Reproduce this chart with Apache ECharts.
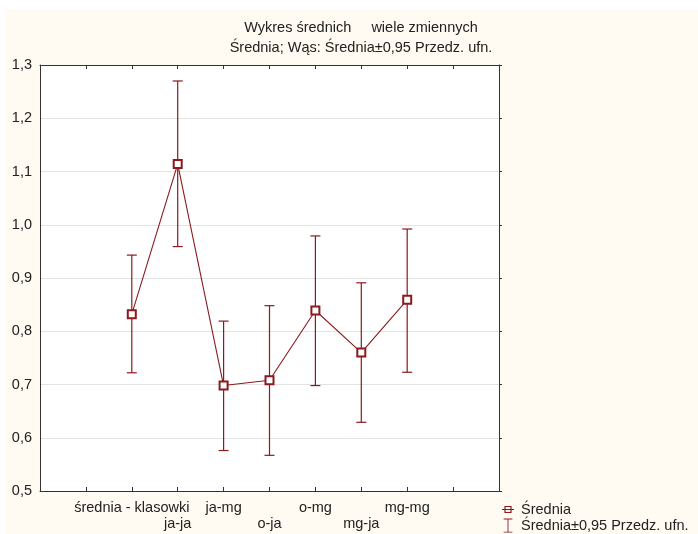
<!DOCTYPE html>
<html>
<head>
<meta charset="utf-8">
<script src="https://cdn.jsdelivr.net/npm/echarts@6/dist/echarts.min.js"></script>
<style>
html,body{margin:0;padding:0;background:#ffffff;}
#wrap{position:absolute;left:5px;top:9px;width:693px;height:525px;background:#fffaf2;}
#chart{position:absolute;left:0;top:0;width:698px;height:534px;}
</style>
</head>
<body>
<div id="wrap"></div>
<div id="chart"></div>
<script>
const categories = ['średnia - klasowki', 'ja-ja', 'ja-mg', 'o-ja', 'o-mg', 'mg-ja', 'mg-mg'];
const means = [0.832, 1.114, 0.698, 0.708, 0.839, 0.760, 0.859];
const lower = [0.722, 0.959, 0.576, 0.567, 0.698, 0.629, 0.723];
const upper = [0.943, 1.270, 0.819, 0.848, 0.979, 0.891, 0.992];
const yTicks = [0.5, 0.6, 0.7, 0.8, 0.9, 1.0, 1.1, 1.2, 1.3];
const titleText = 'Wykres średnich     wiele zmiennych\nŚrednia; Wąs: Średnia±0,95 Przedz. ufn.';
const seriesNames = ['Średnia', 'Średnia±0,95 Przedz. ufn.'];

const color = '#8b1a1f';
const font = 'Liberation Sans, Arial, sans-serif';
const fs = 14.5;
const chart = echarts.init(document.getElementById('chart'), null, {renderer: 'canvas'});

const meanData = means.map((v, i) => [i, v]);
const errData = means.map((v, i) => [i, lower[i], upper[i]]);

chart.setOption({
  backgroundColor: 'transparent',
  animation: false,
  textStyle: {fontFamily: font},
  title: {
    text: titleText,
    left: 356,
    top: 13,
    textAlign: 'center',
    textStyle: {fontSize: fs, fontWeight: 'normal', color: '#222', lineHeight: 20, fontFamily: font}
  },
  grid: {left: 40, right: 199, top: 65, bottom: 43, show: true, backgroundColor: '#ffffff', borderColor: 'transparent'},
  legend: {
    orient: 'vertical',
    left: 502,
    top: 502,
    height: 34,
    padding: 0,
    itemGap: 1,
    itemWidth: 12,
    itemHeight: 14,
    textStyle: {fontSize: fs, color: '#222', fontFamily: font, padding: [0, 0, 0, 2]},
    data: [
      {name: seriesNames[0], icon: 'path://M0,4.5 L2,4.5 L2,2 L8,2 L8,4.5 L10,4.5 L10,5.5 L8,5.5 L8,8 L2,8 L2,5.5 L0,5.5 Z M3,5.5 L3,7 L7,7 L7,5.5 Z M3,4.5 L7,4.5 L7,3 L3,3 Z'},
      {name: seriesNames[1], icon: 'path://M0,0 L10,0 L10,1 L5.5,1 L5.5,15 L10,15 L10,16 L0,16 L0,15 L4.5,15 L4.5,1 L0,1 Z'}
    ]
  },
  xAxis: [{
    type: 'value',
    min: -2,
    max: 8,
    interval: 1,
    position: 'bottom',
    axisLine: {show: true, onZero: false, lineStyle: {color: '#333', width: 1}},
    axisTick: {show: true, inside: true, length: 4, lineStyle: {color: '#333'}},
    splitLine: {show: false},
    axisLabel: {
      fontSize: fs, color: '#222', margin: 9, lineHeight: 16, fontFamily: font,
      formatter: function (v) {
        const c = categories[v];
        if (c === undefined) return '';
        return (v % 2 === 1) ? '\n' + c : c;
      }
    }
  }, {
    type: 'value',
    min: -2,
    max: 8,
    interval: 1,
    position: 'top',
    axisLine: {show: true, onZero: false, lineStyle: {color: '#333', width: 1}},
    axisTick: {show: true, inside: true, length: 4, lineStyle: {color: '#333'}},
    splitLine: {show: false},
    axisLabel: {show: false}
  }],
  yAxis: [{
    type: 'value',
    min: yTicks[0],
    max: yTicks[yTicks.length - 1],
    interval: 0.1,
    position: 'left',
    axisLine: {show: true, onZero: false, lineStyle: {color: '#333', width: 1}},
    axisTick: {show: false},
    splitLine: {show: true, lineStyle: {color: '#e3e3e3', width: 1}},
    axisLabel: {
      fontSize: fs, color: '#222', margin: 8, fontFamily: font,
      formatter: v => v.toFixed(1).replace('.', ',')
    }
  }, {
    type: 'value',
    min: yTicks[0],
    max: yTicks[yTicks.length - 1],
    interval: 0.1,
    position: 'right',
    axisLine: {show: true, onZero: false, lineStyle: {color: '#333', width: 1}},
    axisTick: {show: true, inside: false, length: 3, lineStyle: {color: '#333'}},
    splitLine: {show: false},
    axisLabel: {show: false}
  }],
  series: [{
    name: seriesNames[1],
    type: 'custom',
    xAxisIndex: 0,
    yAxisIndex: 0,
    itemStyle: {color: color},
    data: errData,
    encode: {x: 0, y: [1, 2]},
    renderItem: function (params, api) {
      const x = api.value(0);
      const lo = api.coord([x, api.value(1)]);
      const hi = api.coord([x, api.value(2)]);
      const half = 5;
      const st = {stroke: color, lineWidth: 1.2, fill: null};
      return {
        type: 'group',
        children: [
          {type: 'line', shape: {x1: lo[0], y1: lo[1], x2: hi[0], y2: hi[1]}, style: st},
          {type: 'line', shape: {x1: lo[0] - half, y1: lo[1], x2: lo[0] + half, y2: lo[1]}, style: st},
          {type: 'line', shape: {x1: hi[0] - half, y1: hi[1], x2: hi[0] + half, y2: hi[1]}, style: st}
        ]
      };
    },
    z: 2
  }, {
    name: seriesNames[0],
    type: 'line',
    xAxisIndex: 0,
    yAxisIndex: 0,
    data: meanData,
    symbol: 'emptyRect',
    symbolSize: 8,
    lineStyle: {color: color, width: 1.1},
    itemStyle: {color: color, borderWidth: 0.9},
    z: 3
  }]
});
</script>
</body>
</html>
